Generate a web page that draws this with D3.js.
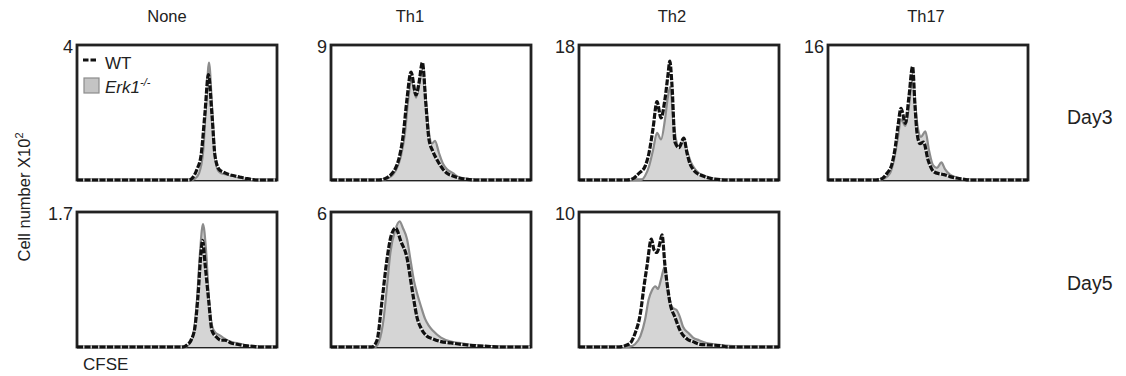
<!DOCTYPE html>
<html>
<head>
<meta charset="utf-8">
<script src="https://cdn.jsdelivr.net/npm/d3@7"></script>
<style>
  body { margin: 0; background: #fff; }
  text { font-family: "Liberation Sans", Arial, sans-serif; fill: #222; }
</style>
</head>
<body>
<div id="chart"></div>
<script>
// column / row labels
var conditions = ["None", "Th1", "Th2", "Th17"];
var days = ["Day3", "Day5"];
// y max of each panel (cell number x10^2), by row
var yMaxDay3 = ["4", "9", "18", "16"];
var yMaxDay5 = ["1.7", "6", "10"];

// histograms: [CFSE position (0-100), count as % of panel max]
var none3WT = [[0,0],[56,0],[58,2],[60,8],[62,18],[64,50],[65.7,78],[67.5,48],[69,18],[71,8],[73,6],[76,4],[79,3],[82,2],[85,1],[88,0.3],[90,0],[100,0]];
var none3KO = [[0,0],[57,0],[59,1],[61,5],[63,20],[64.5,55],[66,87],[67.5,55],[69,18],[70.5,7],[72,5],[75,4],[78,3],[81,2],[84,1],[86,0.5],[88,0],[100,0]];

var th1_3WT = [[0,0],[24,0],[27,1],[30,4],[32,8],[34,16],[36,32],[38,60],[40,80],[42.5,63],[44,72],[45.7,87],[47.5,55],[49,30],[51,21],[53,15],[56,8],[58,5],[61,3],[64,1.5],[68,0.5],[72,0],[100,0]];
var th1_3KO = [[0,0],[25,0],[28,1],[31,4],[33,9],[35,18],[37,35],[38.5,58],[40.3,74],[42.5,61],[44,70],[45.7,85],[47.5,58],[49,35],[50.5,27],[52,29],[54,20],[56,12],[58,8],[61,5],[64,2],[68,1],[72,0],[100,0]];

var th2_3WT = [[0,0],[24,0],[27,1],[30,5],[33,10],[35,20],[37,38],[39,58],[41,46],[43,60],[44.5,78],[45.4,88],[46.5,70],[48,28],[50,24],[52.4,31],[54,20],[55.5,12],[57,8],[59,5],[62,3],[65,1.5],[68,0.7],[74,0],[100,0]];
var th2_3KO = [[0,0],[31,0],[33,3],[35,10],[37,22],[39,35],[41,30],[43,45],[44.5,62],[45.6,69],[47,48],[48.5,30],[50,25],[52.4,30],[54,22],[56,13],[58,8],[60,5],[63,3],[66,1.5],[70,0.5],[75,0],[100,0]];

var th17_3WT = [[0,0],[24,0],[27,1],[29.5,5],[32,12],[33.7,25],[35,40],[36.5,53],[38.7,42],[40.5,62],[42.3,84],[43.5,55],[44.5,35],[46,27],[47.8,28],[50,15],[53,6],[56,4.5],[58,4],[61,2.5],[64,1.5],[67,0.8],[71,0],[100,0]];
var th17_3KO = [[0,0],[26,0],[28,1],[31,5],[33,15],[35,32],[36.5,45],[38.7,40],[40.5,55],[42.3,78],[43.5,58],[45,38],[46.5,32],[48.7,36],[50.5,22],[52.5,11],[54.5,9],[56.7,13],[58.5,8],[61,4],[64,2],[66,1],[69,0],[100,0]];

var none5WT = [[0,0],[53,0],[55,1.5],[57,5],[59,15],[60.5,38],[62,70],[62.8,79],[64,62],[65.8,35],[67.5,12],[70,7],[72,5],[74,5],[77,3],[80,2],[84,1],[88,0.5],[91,0],[100,0]];
var none5KO = [[0,0],[54,0],[56,2],[58,8],[60,35],[61.5,70],[63,91],[64.5,72],[66,35],[67.5,16],[69,11],[71,9],[73,7],[75,5],[78,3.5],[81,2.5],[84,1.5],[87.5,0.5],[90,0],[100,0]];

var th1_5WT = [[0,0],[20.5,0],[23,5],[25.5,34],[28,65],[30,82],[32.3,88],[35,78],[38,66],[40,48],[41.5,34],[43,22],[45,14],[48,8],[51,6],[55,4],[60,3],[65,2],[72,1],[78.5,0.5],[84,0],[100,0]];
var th1_5KO = [[0,0],[22,0],[24,4],[26.4,22],[28,45],[29.7,70],[32,86],[34.3,93],[36,88],[38,80],[40,62],[41.5,49],[43,40],[45,30],[47,21],[48.8,16],[51,12],[55,7],[60,4],[64,3],[68,2],[74,1],[80,0.5],[86,0],[100,0]];

var th2_5WT = [[0,0],[20,0],[23,1],[25.7,3],[28,10],[30.7,25],[32.5,45],[34,60],[36.2,80],[37.5,72],[39,70],[40.3,76],[41.5,83],[43,60],[44.5,42],[45.6,32],[48,22],[50.6,12],[54,6],[57,4],[60.5,2],[65,1.5],[70.5,1],[75,0],[100,0]];
var th2_5KO = [[0,0],[25,0],[28,2],[30.7,8],[33,20],[34.8,35],[36.5,42],[38.2,45],[39.5,43],[41,50],[43,60],[44.5,42],[46.4,30],[48,28],[49,27],[50.5,22],[52,15],[55,10],[57,7],[60,5],[63.8,3],[68,2],[73.8,1],[79,0.5],[83.7,0],[100,0]];

var panels = [
  { row: 0, col: 0, max: yMaxDay3[0], wt: none3WT, ko: none3KO },
  { row: 0, col: 1, max: yMaxDay3[1], wt: th1_3WT, ko: th1_3KO },
  { row: 0, col: 2, max: yMaxDay3[2], wt: th2_3WT, ko: th2_3KO },
  { row: 0, col: 3, max: yMaxDay3[3], wt: th17_3WT, ko: th17_3KO },
  { row: 1, col: 0, max: yMaxDay5[0], wt: none5WT, ko: none5KO },
  { row: 1, col: 1, max: yMaxDay5[1], wt: th1_5WT, ko: th1_5KO },
  { row: 1, col: 2, max: yMaxDay5[2], wt: th2_5WT, ko: th2_5KO }
];

var W = 1126, H = 376;
var pw = 200, ph = 135;
var colX = [77, 331, 579, 828];
var rowY = [45, 212];
var titleX = [167, 410, 672, 926];

var svg = d3.select("#chart").append("svg").attr("width", W).attr("height", H);

var x = d3.scaleLinear().domain([0, 100]).range([0, pw]);
var y = d3.scaleLinear().domain([0, 100]).range([ph, 0]);

var area = d3.area()
  .x(function (d) { return x(d[0]); })
  .y0(ph)
  .y1(function (d) { return y(d[1]); })
  .curve(d3.curveMonotoneX);
var line = d3.line()
  .x(function (d) { return x(d[0]); })
  .y(function (d) { return y(d[1]); })
  .curve(d3.curveMonotoneX);

// column titles
svg.selectAll("text.title")
  .data(conditions)
  .enter()
  .append("text")
  .attr("class", "title")
  .attr("x", function (d, i) { return titleX[i]; })
  .attr("y", 22)
  .attr("text-anchor", "middle")
  .style("font-size", "16.5px")
  .text(function (d) { return d; });

// day labels
svg.selectAll("text.day")
  .data(days)
  .enter()
  .append("text")
  .attr("class", "day")
  .attr("x", 1067)
  .attr("y", function (d, i) { return i == 0 ? 124 : 290; })
  .style("font-size", "19.5px")
  .text(function (d) { return d; });

var g = svg.selectAll("g.panel")
  .data(panels)
  .enter()
  .append("g")
  .attr("class", "panel")
  .attr("transform", function (d) {
    return "translate(" + colX[d.col] + "," + rowY[d.row] + ")";
  });

g.append("rect")
  .attr("width", pw)
  .attr("height", ph)
  .attr("fill", "#fff")
  .attr("stroke", "#222")
  .attr("stroke-width", 2.8);

g.append("path")
  .attr("d", function (d) { return area(d.ko); })
  .attr("fill", "#d5d5d5");
g.append("path")
  .attr("d", function (d) { return line(d.ko); })
  .attr("fill", "none")
  .attr("stroke", "#8c8c8c")
  .attr("stroke-width", 2.2);
g.append("path")
  .attr("d", function (d) { return line(d.wt); })
  .attr("fill", "none")
  .attr("stroke", "#fff")
  .attr("stroke-width", 1.2);
g.append("path")
  .attr("d", function (d) { return line(d.wt); })
  .attr("fill", "none")
  .attr("stroke", "#111")
  .attr("stroke-width", 3.2)
  .attr("stroke-dasharray", "6,1.5");

g.append("text")
  .attr("x", -4)
  .attr("y", 8)
  .attr("text-anchor", "end")
  .style("font-size", "18px")
  .text(function (d) { return d.max; });

// legend in first panel
var leg = svg.append("g").attr("transform", "translate(" + colX[0] + "," + rowY[0] + ")");
leg.append("line")
  .attr("x1", 6).attr("x2", 19).attr("y1", 15).attr("y2", 15)
  .attr("stroke", "#111").attr("stroke-width", 3).attr("stroke-dasharray", "5.5,2");
leg.append("text").attr("x", 28).attr("y", 24).style("font-size", "17px").text("WT");
leg.append("rect")
  .attr("x", 7).attr("y", 33).attr("width", 15).attr("height", 15)
  .attr("fill", "#c4c4c4").attr("stroke", "#8c8c8c").attr("stroke-width", 1.2);
var ko = leg.append("text").attr("x", 28).attr("y", 48).style("font-size", "17px");
ko.append("tspan").style("font-style", "italic").text("Erk1");
ko.append("tspan").attr("dy", -7).style("font-size", "11px").style("font-style", "italic").text("-/-");

// axis labels
var yl = svg.append("text")
  .attr("transform", "translate(30,197) rotate(-90)")
  .attr("text-anchor", "middle")
  .style("font-size", "16.5px");
yl.append("tspan").text("Cell number X10");
yl.append("tspan").attr("dy", -7).style("font-size", "11px").text("2");

svg.append("text")
  .attr("x", 83)
  .attr("y", 370)
  .style("font-size", "17px")
  .text("CFSE");
</script>
</body>
</html>
